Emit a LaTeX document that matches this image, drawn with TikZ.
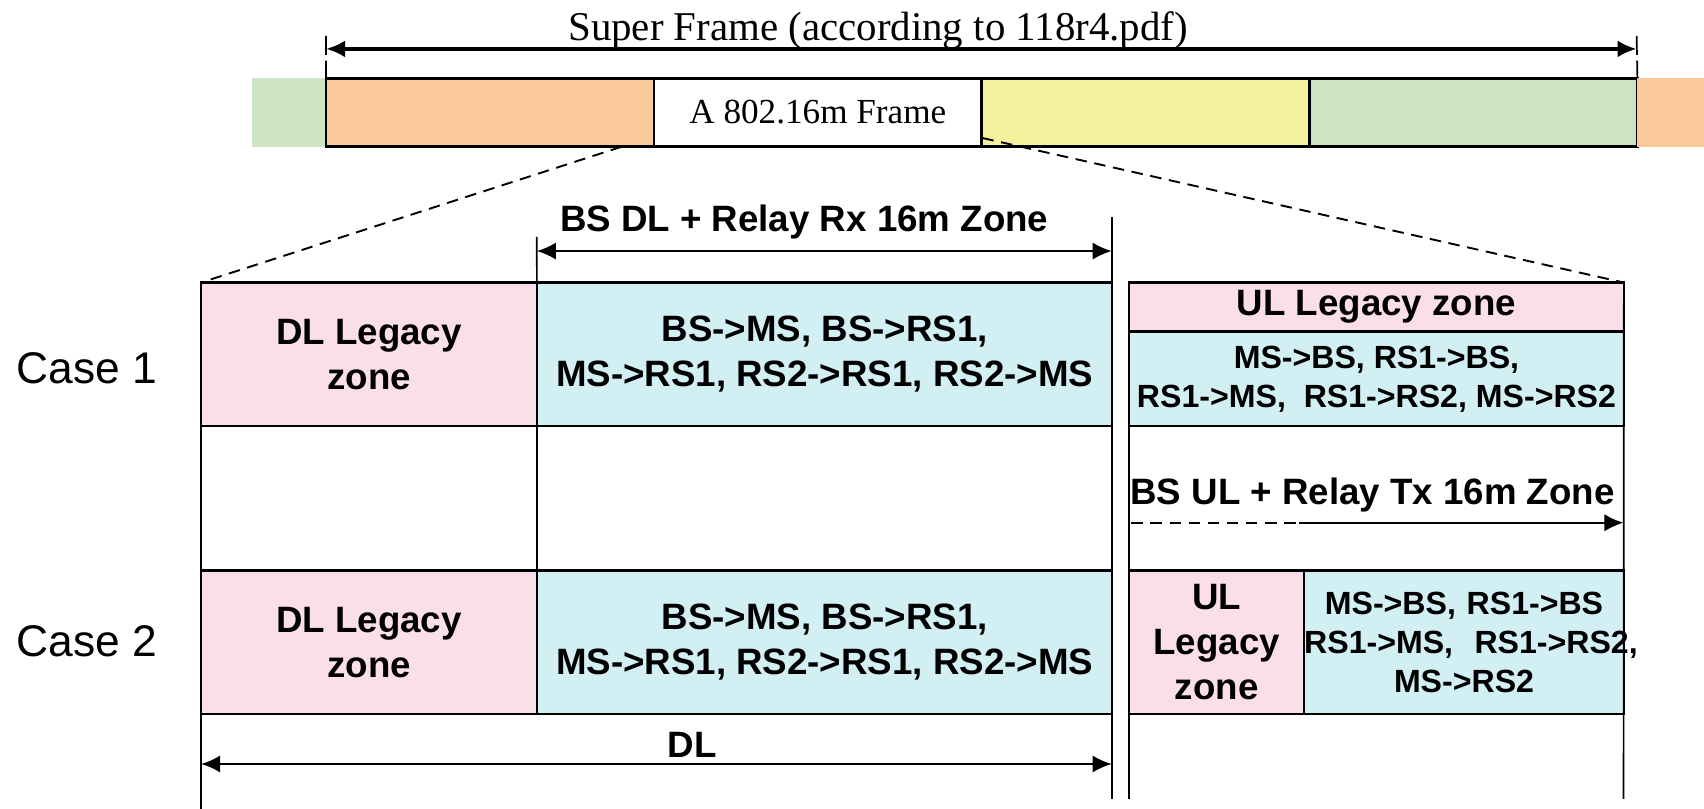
\documentclass[tikz,border=0pt]{standalone}
\usepackage{fontspec}
\usepackage{tikz}
\usetikzlibrary{positioning}
\usetikzlibrary{arrows.meta}
\usepackage{xcolor}
\setmainfont{Liberation Sans}
\newfontfamily\serifframe{Liberation Serif}
\definecolor{legpink}{RGB}{250,222,233}
\definecolor{zonecyan}{RGB}{210,239,243}
\definecolor{frorange}{RGB}{249,201,153}
\definecolor{fryellow}{RGB}{243,240,158}
\definecolor{frgreen}{RGB}{204,228,195}

\begin{document}
\begin{tikzpicture}[x=0.01cm, y=-0.01cm, >={Latex[length=5pt,width=4.5pt]},
  zone/.style = {draw, line width=0.6pt, outer sep=0pt, inner sep=0pt, align=center, font=\bfseries\fontsize{9.6}{11.8}\selectfont},
  flow/.style = {zone, font=\bfseries\fontsize{8.4}{10.2}\selectfont},
  cell/.style = {draw, line width=0.7pt, outer sep=0pt, inner sep=0pt, minimum width=3.015cm, minimum height=0.63cm, font=\serifframe\fontsize{9.2}{11}\selectfont},
  strip/.style = {outer sep=0pt, inner sep=0pt, minimum height=0.63cm},
  zonename/.style = {font=\bfseries\fontsize{9.6}{11.8}\selectfont, anchor=base, inner sep=0pt},
  casename/.style = {font=\fontsize{11.6}{14}\selectfont, anchor=base, inner sep=0pt},
  vline/.style = {line width=0.45pt},
  zoomline/.style = {line width=0.5pt, dash pattern=on 3pt off 2pt}]

\useasboundingbox (0,0) rectangle (1568,744);

% super frame
\node[strip, fill=frgreen, minimum width=0.68cm, anchor=north west] (g0) at (232,72) {};
\node[cell, fill=frorange] (f1) [right=0pt of g0] {};
\node[cell] (f2) [right=0pt of f1] {A 802.16m Frame};
\node[cell, fill=fryellow] (f3) [right=0pt of f2] {};
\node[cell, fill=frgreen] (f4) [right=0pt of f3] {};
\node[strip, fill=frorange, minimum width=0.62cm] (o5) [right=0pt of f4] {};

\node[font=\serifframe\fontsize{10.7}{12}\selectfont, anchor=base, inner sep=0pt] (sf) at (808,37) {Super Frame (according to 118r4.pdf)};
\coordinate (sfl) at (300,45);
\coordinate (sfr) at (1506,45);
\coordinate (tl) at (300,33);
\coordinate (tr) at (1506,33);
\draw[vline, dash pattern=on 5pt off 1.5pt] (tl) -- (f1.north west);
\draw[vline, dash pattern=on 5pt off 1.5pt] (tr) -- (f4.north east);
\path (sfl) edge[<->, line width=1pt] (sfr);

% case 1
\node[zone, fill=legpink, minimum width=3.09cm, minimum height=1.32cm, anchor=north west] (dl1) at (185,260) {DL Legacy\\zone};
\node[zone, fill=zonecyan, minimum width=5.29cm, minimum height=1.32cm] (bs1) [right=0pt of dl1] {BS->MS, BS->RS1,\\MS->RS1, RS2->RS1, RS2->MS};
\node[zone, fill=legpink, minimum width=4.55cm, minimum height=0.45cm, anchor=north west] (ul1) at (1039,260) {UL Legacy zone};
\node[flow, fill=zonecyan, minimum width=4.55cm, minimum height=0.87cm] (ms1) [below=0pt of ul1] {MS->BS, RS1->BS,\\RS1->MS,~ RS1->RS2, MS->RS2};

% case 2
\node[zone, fill=legpink, minimum width=3.09cm, minimum height=1.32cm, anchor=north west] (dl2) at (185,525) {DL Legacy\\zone};
\node[zone, fill=zonecyan, minimum width=5.29cm, minimum height=1.32cm] (bs2) [right=0pt of dl2] {BS->MS, BS->RS1,\\MS->RS1, RS2->RS1, RS2->MS};
\node[zone, fill=legpink, minimum width=1.61cm, minimum height=1.32cm, anchor=north west] (ul2) at (1039,525) {UL\\Legacy\\zone};
\node[flow, fill=zonecyan, text width=2.94cm, minimum height=1.32cm] (ms2) [right=0pt of ul2] {MS->BS, RS1->BS\\\mbox{RS1->MS,~ RS1->RS2,}\\MS->RS2};

\node[casename] (c1) at (80,353) {Case 1};
\node[casename] (c2) at (80,604) {Case 2};

% zone borders
\coordinate (v1) at (185,744);
\coordinate (v2) at (494,218);
\coordinate (v3t) at (1023,200);
\coordinate (v3b) at (1023,735);
\coordinate (v4) at (1039,735);
\coordinate (v5) at (1494,735);
\draw[vline] (dl1.north west) -- (v1);
\draw[vline] (v2) -- (bs2.south west);
\draw[vline] (v3t) -- (v3b);
\draw[vline] (ul1.north west) -- (v4);
\draw[vline] (ul1.north east) -- (v5);

% zoom lines
\coordinate (zl) at (572,135);
\coordinate (zr) at (904,127);
\draw[zoomline] (zl) -- (dl1.north west);
\draw[zoomline] (zr) -- (ul1.north east);

% zone arrows
\node[zonename] (rx) at (740,213) {BS DL + Relay Rx 16m Zone};
\coordinate (rxl) at (494,231);
\coordinate (rxr) at (1023,231);
\path (rxl) edge[<->, line width=0.55pt] (rxr);

\node[zonename] (tx) at (1263,464) {BS UL + Relay Tx 16m Zone};
\coordinate (txa) at (1041,481);
\coordinate (txb) at (1195,481);
\coordinate (txc) at (1494,481);
\draw[line width=0.55pt, dash pattern=on 3pt off 2pt] (txa) -- (txb);
\path (txb) edge[->, line width=0.55pt] (txc);

\node[zonename] (dl) at (637,697) {DL};
\coordinate (dla) at (185,703);
\coordinate (dlb) at (1023,703);
\path (dla) edge[<->, line width=0.55pt] (dlb);
\end{tikzpicture}
\end{document}
